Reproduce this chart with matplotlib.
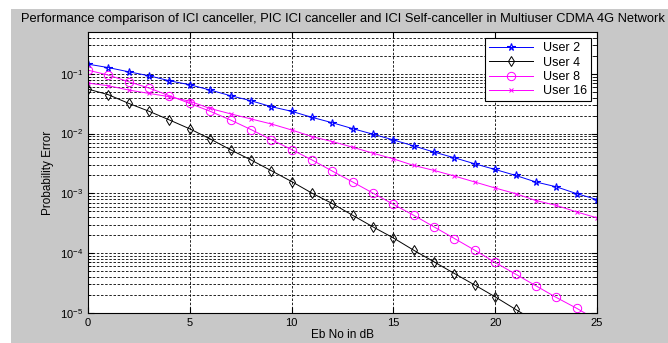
import matplotlib
matplotlib.use("Agg")
import matplotlib.pyplot as plt
from matplotlib.patches import Rectangle

plt.rcParams['font.family'] = ['Liberation Sans', 'DejaVu Sans']
plt.rcParams['mathtext.default'] = 'regular'

ebno = list(range(26))

user2 = [0.145, 0.127, 0.108, 0.0927, 0.0764, 0.0656, 0.0535, 0.0430, 0.0355, 0.0282,
         0.0236, 0.0187, 0.0152, 0.0121, 0.00977, 0.00783, 0.00622, 0.0049, 0.00394, 0.00312,
         0.00251, 0.0020, 0.00155, 0.00129, 0.00099, 0.00079]
user4 = [0.0555, 0.0447, 0.0320, 0.0236, 0.0169, 0.0120, 0.00815, 0.00537, 0.00363, 0.0024,
         0.00158, 0.00101, 0.000676, 0.00043, 0.000275, 0.00018, 0.000112, 7.16e-5, 4.57e-5, 2.93e-5,
         1.86e-5, 1.15e-5, 7.2e-6]
user8 = [0.115, 0.0951, 0.0736, 0.0577, 0.0430, 0.0320, 0.0236, 0.0169, 0.0117, 0.00794,
         0.00541, 0.00363, 0.00236, 0.00155, 0.00101, 0.000656, 0.00043, 0.000275, 0.000176, 0.000112,
         7.0e-5, 4.47e-5, 2.85e-5, 1.82e-5, 1.2e-5, 7.6e-6]
user16 = [0.0698, 0.0631, 0.0535, 0.0470, 0.0414, 0.0347, 0.0263, 0.0214, 0.0176, 0.0145,
          0.0115, 0.00891, 0.00736, 0.00592, 0.0047, 0.00378, 0.00293, 0.00242, 0.00195, 0.00155,
          0.00123, 0.00099, 0.00076, 0.00063, 0.00049, 0.00039]

fig = plt.figure(figsize=(6.68, 3.43), dpi=100)
fig.patch.set_facecolor('white')
fig.patches.append(Rectangle((11 / 668, 0), 1, 1 - 9 / 343, transform=fig.transFigure,
                             facecolor='#c8c8c8', edgecolor='none', zorder=-10))
ax = fig.add_axes([88 / 668, 1 - 313 / 343, 509 / 668, 281 / 343])

ax.semilogy(ebno, user2, color='#0000ff', lw=0.7, marker='*', ms=5.5, mfc='none', mew=0.8, label='User 2')
ax.semilogy(ebno[:len(user4)], user4, color='black', lw=0.7, marker='d', ms=5, mfc='none', mew=0.7, label='User 4')
ax.semilogy(ebno, user8, color='#ff00ff', lw=0.7, marker='o', ms=6, mfc='none', mew=0.7, label='User 8')
ax.semilogy(ebno, user16, color='#ff00ff', lw=0.7, marker='x', ms=3, mew=0.7, label='User 16')

ax.set_xlim(0, 25)
ax.set_ylim(1e-5, 0.5)
ax.set_xticks([0, 5, 10, 15, 20, 25])
ax.grid(True, which='major', color='black', linestyle=(0, (3, 2)), lw=0.6)
ax.grid(True, which='minor', axis='y', color='black', linestyle=(0, (3, 2)), lw=0.6)
ax.tick_params(which='both', direction='in', top=True, right=True, labelsize=8)
ax.tick_params(which='major', length=4)
ax.tick_params(which='minor', length=2)
for s in ax.spines.values():
    s.set_linewidth(0.8)

ax.set_title('Performance comparison of ICI canceller, PIC ICI canceller and ICI Self-canceller in Multiuser CDMA 4G Network',
             fontsize=9.25, pad=7)
ax.set_xlabel('Eb No in dB', fontsize=8.5, labelpad=1)
ax.set_ylabel('Probability Error', fontsize=8.5, labelpad=4)

leg = ax.legend(loc='upper right', fontsize=9, fancybox=False, framealpha=1, edgecolor='black',
                handlelength=3.5, borderpad=0.3, labelspacing=0.2, borderaxespad=0.5)
leg.get_frame().set_linewidth(0.8)

fig.savefig('out.png', dpi=100, facecolor=fig.get_facecolor())
